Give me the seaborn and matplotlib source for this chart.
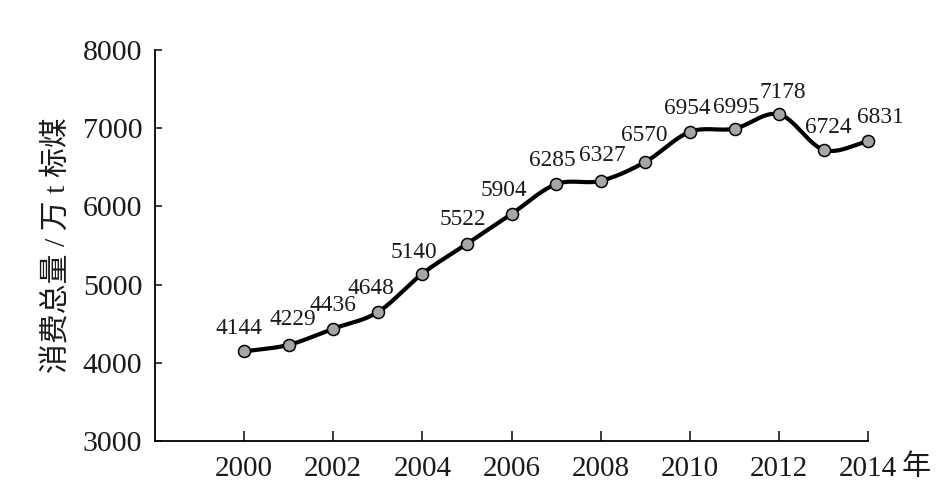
import numpy as np
import pandas as pd
import matplotlib
matplotlib.use("Agg")
import matplotlib.pyplot as plt
import seaborn as sns

years = [2000, 2001, 2002, 2003, 2004, 2005, 2006, 2007, 2008, 2009, 2010, 2011, 2012, 2013, 2014]
consumption = [4144, 4229, 4436, 4648, 5140, 5522, 5904, 6285, 6327, 6570, 6954, 6995, 7178, 6724, 6831]
xtick_years = [2000, 2002, 2004, 2006, 2008, 2010, 2012, 2014]
yticks = [3000, 4000, 5000, 6000, 7000, 8000]
ylabel = "消费总量 / 万 t 标煤"
xunit = "年"

# label offsets in pixels (dx, dy)
label_offsets = [(-5, 23), (4, 25), (0, 23), (-7, 24), (-9, 21), (-4, 24), (-8, 23), (-4, 24),
                 (2, 25), (-1, 26), (-3, 23), (2, 21), (4, 22), (5, 22), (12, 24)]

sns.set_theme(style="white")
plt.rcParams['font.family'] = ['Liberation Serif', 'Noto Sans CJK SC']
plt.rcParams['axes.unicode_minus'] = False


def catmull_rom(x, y, n=30):
    x = np.asarray(x, float)
    y = np.asarray(y, float)
    px = np.concatenate([[2 * x[0] - x[1]], x, [2 * x[-1] - x[-2]]])
    py = np.concatenate([[2 * y[0] - y[1]], y, [2 * y[-1] - y[-2]]])
    xs, ys = [], []
    t = np.linspace(0, 1, n, endpoint=False)
    for i in range(1, len(px) - 2):
        p0x, p1x, p2x, p3x = px[i - 1:i + 3]
        p0y, p1y, p2y, p3y = py[i - 1:i + 3]
        for arr, (a, b, c, d) in ((xs, (p0x, p1x, p2x, p3x)), (ys, (p0y, p1y, p2y, p3y))):
            arr.extend(0.5 * ((2 * b) + (-a + c) * t + (2 * a - 5 * b + 4 * c - d) * t ** 2
                              + (-a + 3 * b - 3 * c + d) * t ** 3))
    xs.append(x[-1])
    ys.append(y[-1])
    return np.array(xs), np.array(ys)


df = pd.DataFrame({"year": years, "value": consumption})
sx, sy = catmull_rom(df["year"], df["value"])
smooth_df = pd.DataFrame({"x": sx, "y": sy})

fig = plt.figure(figsize=(9.5, 4.91), dpi=100)
ax = fig.add_axes([0.163, 0.102, 0.751, 0.796])

sns.lineplot(data=smooth_df, x="x", y="y", sort=False, estimator=None, color="black",
             linewidth=3.0, ax=ax, clip_on=False, zorder=2)
sns.scatterplot(data=df, x="year", y="value", s=75, color="#a6a6a6", edgecolor="black",
                linewidth=1.1, ax=ax, clip_on=False, zorder=3)

for (yr, v), (dx, dy) in zip(zip(years, consumption), label_offsets):
    ax.annotate(f"{v}", xy=(yr, v), xytext=(dx, dy), textcoords="offset pixels",
                ha="center", va="center", fontsize=16.8, color="#1a1a1a")

ax.set_xlim(1998, 2014)
ax.set_ylim(3000, 8000)
ax.set_xticks(xtick_years)
ax.set_xticklabels([str(y) for y in xtick_years])
ax.set_yticks(yticks)
ax.set_yticklabels([str(y) for y in yticks])
ax.tick_params(axis="x", direction="in", length=7, width=1.2, pad=11, labelsize=21, colors="#1a1a1a")
ax.tick_params(axis="y", direction="in", length=5, width=1.2, pad=9, labelsize=21.5, colors="#1a1a1a")
ax.tick_params(bottom=True, left=True)

for side in ["top", "right"]:
    ax.spines[side].set_visible(False)
for side in ["left", "bottom"]:
    ax.spines[side].set_color("black")
    ax.spines[side].set_linewidth(1.3)

ax.set_xlabel("")
ax.set_ylabel(ylabel, fontsize=21.5, family=['Liberation Serif', 'Noto Sans CJK SC'], color="#1a1a1a", labelpad=9)
ax.grid(False)

ax.annotate(xunit, xy=(1, 0), xycoords="axes fraction", xytext=(48, -26), textcoords="offset pixels",
            ha="center", va="center", fontsize=21, family=['Noto Sans CJK SC'], color="#1a1a1a")

fig.savefig("out.png", dpi=100)
